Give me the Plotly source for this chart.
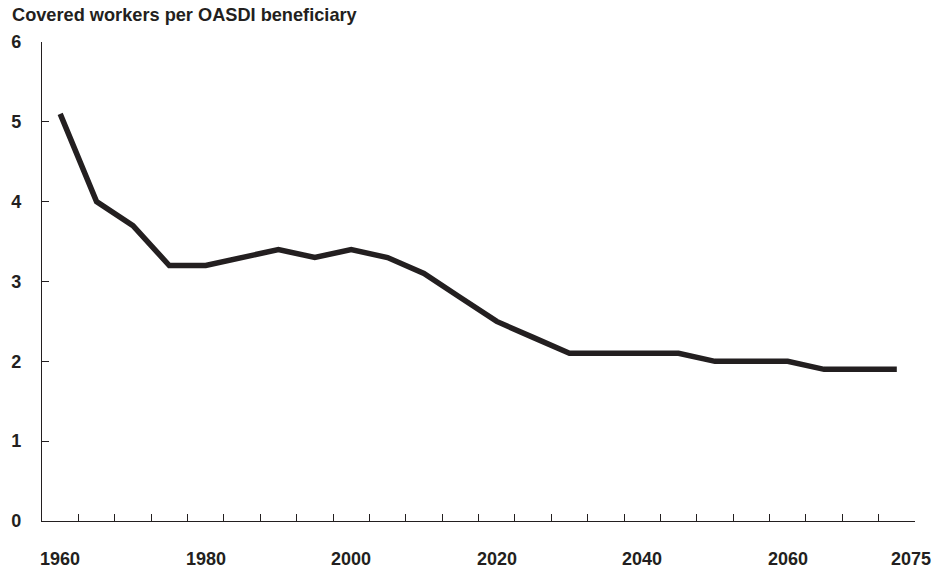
import plotly.graph_objects as go

# Data
years = [1960, 1965, 1970, 1975, 1980, 1985, 1990, 1995, 2000, 2005, 2010, 2015,
         2020, 2025, 2030, 2035, 2040, 2045, 2050, 2055, 2060, 2065, 2070, 2075]
workers_per_beneficiary = [5.1, 4.0, 3.7, 3.2, 3.2, 3.3, 3.4, 3.3, 3.4, 3.3, 3.1, 2.8,
                           2.5, 2.3, 2.1, 2.1, 2.1, 2.1, 2.0, 2.0, 2.0, 1.9, 1.9, 1.9]
x_label_years = [1960, 1980, 2000, 2020, 2040, 2060, 2077]
x_label_text = ["1960", "1980", "2000", "2020", "2040", "2060", "2075"]
y_ticks = [0, 1, 2, 3, 4, 5, 6]
minor_tick_years = [1962.5 + 5 * i for i in range(24)]

INK = "#231f20"
FONT = "Liberation Sans, Arial, Helvetica, sans-serif"

fig = go.Figure()
fig.add_trace(go.Scatter(
    x=years, y=workers_per_beneficiary, mode="lines",
    line=dict(color=INK, width=5.5),
    hoverinfo="skip", showlegend=False,
))

annotations = []
for xv, txt in zip(x_label_years, x_label_text):
    annotations.append(dict(
        x=xv, y=-0.079, xref="x", yref="paper", text=txt, showarrow=False,
        xanchor="center", yanchor="middle",
        font=dict(family=FONT, size=18, color=INK, weight="bold"),
    ))

fig.update_layout(
    width=951, height=572,
    margin=dict(l=42, r=36, t=42, b=51, autoexpand=False),
    paper_bgcolor="white", plot_bgcolor="white",
    title=dict(
        text="Covered workers per OASDI beneficiary",
        x=12 / 951, xanchor="left", xref="container",
        y=1 - 14.5 / 572, yanchor="middle", yref="container",
        font=dict(family=FONT, size=18.2, color=INK, weight="bold"),
    ),
    xaxis=dict(
        range=[1957.5, 2077.5], tickvals=minor_tick_years, ticks="inside",
        ticklen=7, tickwidth=1, tickcolor=INK, showticklabels=False,
        showline=True, linecolor=INK, linewidth=1.2, showgrid=False,
        zeroline=False, fixedrange=True, automargin=False,
    ),
    yaxis=dict(
        range=[0, 6], tickvals=y_ticks, ticks="inside", ticklen=7,
        tickwidth=1, tickcolor=INK, showline=True, linecolor=INK,
        linewidth=1.2, showgrid=False, zeroline=False, fixedrange=True,
        ticklabelstandoff=16, automargin=False,
        tickfont=dict(family=FONT, size=18, color=INK, weight="bold"),
    ),
    annotations=annotations,
)

fig.write_html(
    "out.html",
    config={"displayModeBar": False, "staticPlot": True},
    post_script="document.body.style.margin='0';document.body.style.overflow='hidden';",
)
